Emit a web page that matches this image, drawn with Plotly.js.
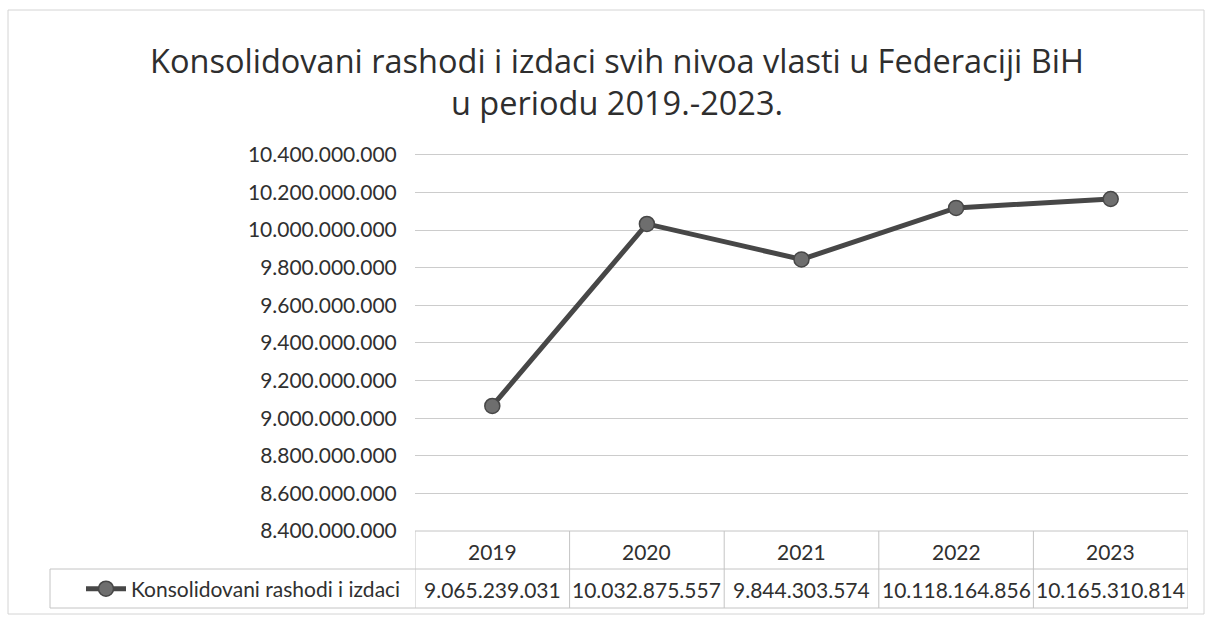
<!DOCTYPE html>
<html>
<head>
<meta charset="utf-8">
<script src="https://cdn.plot.ly/plotly-3.0.1.min.js"></script>
<style>html,body{margin:0;padding:0;background:#fff;}#chart{width:1208px;height:621px;}</style>
</head>
<body>
<div id="chart"></div>
<script>
const years = ["2019", "2020", "2021", "2022", "2023"];
const values = [9065239031, 10032875557, 9844303574, 10118164856, 10165310814];
const seriesName = "Konsolidovani rashodi i izdaci";
const titleText = "Konsolidovani rashodi i izdaci svih nivoa vlasti u Federaciji BiH<br>u periodu 2019.-2023.";

function fmt(v) {
  return String(Math.round(v)).replace(/\B(?=(\d{3})+(?!\d))/g, ".");
}

const FONT = "Lato, 'Open Sans', sans-serif";
const TFONT = "'Open Sans', Lato, sans-serif";
const TXT = "#303030";
const GRID = "#cccccc";
const TBL = "#c4c4c4";

// geometry helpers (paper coordinates)
const plotL = 415, plotR = 1188, plotT = 153, plotB = 531;
const pw = plotR - plotL, ph = plotB - plotT;
const px = x => (x - plotL) / pw;
const py = y => (plotB - y) / ph;

const shapes = [];
// outer chart border
shapes.push({type: "rect", xref: "paper", yref: "paper", x0: px(8), x1: px(1204), y0: py(614), y1: py(10), line: {color: "#d4d4d4", width: 1}});
// table vertical lines at category boundaries
for (let i = 0; i <= years.length; i++) {
  shapes.push({type: "line", xref: "x", yref: "paper", x0: i - 0.5, x1: i - 0.5, y0: 0, y1: py(608), line: {color: TBL, width: 1}});
}
// table horizontal lines
shapes.push({type: "line", xref: "paper", yref: "paper", x0: 0, x1: 1, y0: 0, y1: 0, line: {color: TBL, width: 1}});
shapes.push({type: "line", xref: "paper", yref: "paper", x0: px(50), x1: 1, y0: py(569), y1: py(569), line: {color: TBL, width: 1}});
shapes.push({type: "line", xref: "paper", yref: "paper", x0: px(50), x1: 1, y0: py(608), y1: py(608), line: {color: TBL, width: 1}});
shapes.push({type: "line", xref: "paper", yref: "paper", x0: px(50), x1: px(50), y0: py(569), y1: py(608), line: {color: TBL, width: 1}});

const annotations = [];
years.forEach((y, i) => {
  annotations.push({x: i, xref: "x", y: py(551), yref: "paper", text: y, showarrow: false, xanchor: "center", yanchor: "middle", font: {family: FONT, size: 21, color: TXT}});
  annotations.push({x: i, xref: "x", y: py(589), yref: "paper", text: fmt(values[i]), showarrow: false, xanchor: "center", yanchor: "middle", font: {family: FONT, size: 21, color: TXT}});
});

const trace = {
  x: years,
  y: values,
  type: "scatter",
  mode: "lines+markers",
  name: seriesName,
  line: {color: "#474747", width: 5},
  marker: {size: 15, color: "#6e6e6e", line: {color: "#474747", width: 1.5}},
  hoverinfo: "skip"
};

const layout = {
  width: 1208,
  height: 621,
  paper_bgcolor: "#ffffff",
  plot_bgcolor: "#ffffff",
  separators: ",.",
  margin: {l: plotL, r: 1208 - plotR, t: plotT, b: 621 - plotB, pad: 0},
  title: {
    text: titleText,
    font: {family: TFONT, size: 32.5, color: "#2e2e2e"},
    x: 617 / 1208,
    xref: "container",
    xanchor: "center",
    y: 1 - 73 / 621,
    yref: "container",
    yanchor: "middle"
  },
  xaxis: {
    type: "category",
    range: [-0.5, 4.5],
    showgrid: false,
    showline: false,
    zeroline: false,
    showticklabels: false,
    ticks: ""
  },
  yaxis: {
    range: [8400000000, 10410000000],
    dtick: 200000000,
    tick0: 0,
    tickformat: ",d",
    showgrid: true,
    gridcolor: GRID,
    gridwidth: 1,
    zeroline: false,
    showline: false,
    ticks: "outside",
    ticklen: 13,
    tickcolor: "rgba(0,0,0,0)",
    tickfont: {family: FONT, size: 21, color: TXT}
  },
  showlegend: true,
  legend: {
    x: px(406),
    xanchor: "right",
    y: py(589),
    yanchor: "middle",
    bgcolor: "rgba(0,0,0,0)",
    font: {family: FONT, size: 21, color: TXT},
    itemwidth: 40
  },
  shapes: shapes,
  annotations: annotations
};

Plotly.newPlot("chart", [trace], layout, {displayModeBar: false, staticPlot: true});
</script>
</body>
</html>
